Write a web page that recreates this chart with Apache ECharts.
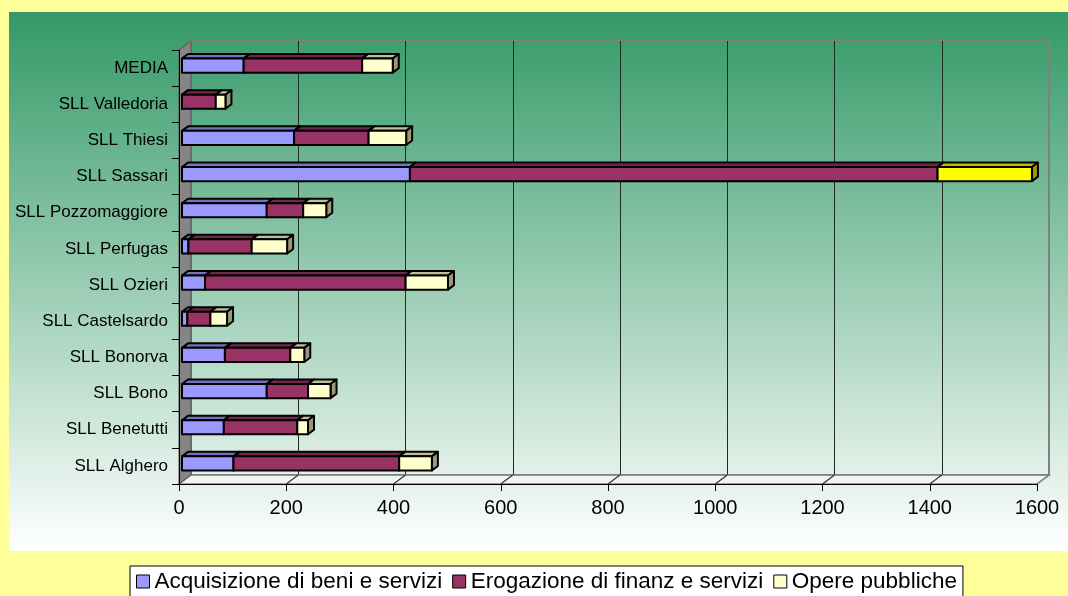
<!DOCTYPE html>
<html>
<head>
<meta charset="utf-8">
<script src="https://cdn.jsdelivr.net/npm/echarts@6/dist/echarts.min.js"></script>
<style>
html, body { margin: 0; padding: 0; background: #ffff99; }
#chart { width: 1068px; height: 596px; }
</style>
</head>
<body>
<div id="chart"></div>
<script>
// data, bottom row first (category axis goes upward)
const categories = ['SLL Alghero', 'SLL Benetutti', 'SLL Bono', 'SLL Bonorva', 'SLL Castelsardo', 'SLL Ozieri',
  'SLL Perfugas', 'SLL Pozzomaggiore', 'SLL Sassari', 'SLL Thiesi', 'SLL Valledoria', 'MEDIA'];
const acquisizione = [96, 78, 158, 80, 10, 43, 12, 158, 425, 209, 0, 115];
const erogazione = [309, 137, 77, 122, 43, 374, 118, 68, 984, 139, 63, 221];
const opere = [61, 20, 42, 26, 31, 79, 66, 43, 176, 70, 18, 57];
const xTicks = [0, 200, 400, 600, 800, 1000, 1200, 1400, 1600];
const seriesNames = ['Acquisizione di beni e servizi', 'Erogazione di finanz e servizi', 'Opere pubbliche'];

// frame of the fake 3d plot
const GX = 179, GY = 50, GW = 858, GH = 434;
const DX = 12, DY = 9;
const FONT = '"Liberation Sans", Arial, sans-serif';

function shade(hex, k) {
  const n = parseInt(hex.slice(1), 16);
  const r = Math.round(((n >> 16) & 255) * k);
  const g = Math.round(((n >> 8) & 255) * k);
  const b = Math.round((n & 255) * k);
  return 'rgb(' + r + ',' + g + ',' + b + ')';
}

function renderBar(params, api) {
  const x0 = api.value(0), x1 = api.value(1), cat = api.value(2);
  const a = api.coord([x0, cat]);
  const b = api.coord([x1, cat]);
  const band = api.size([0, 1])[1];
  const h = band * 0.39;
  const l = a[0] + 3, r = b[0] + 3;
  const yc = a[1] - 2.5;
  const t = yc - h / 2, bt = yc + h / 2;
  const dx = 6, dy = 4.5;
  const color = api.visual('color');
  const stroke = { stroke: '#000', lineWidth: 2, lineJoin: 'round' };
  return {
    type: 'group',
    children: [
      { type: 'polygon', shape: { points: [[l, t], [r, t], [r + dx, t - dy], [l + dx, t - dy]] },
        style: Object.assign({ fill: shade(color, 0.75) }, stroke) },
      { type: 'polygon', shape: { points: [[r, t], [r + dx, t - dy], [r + dx, bt - dy], [r, bt]] },
        style: Object.assign({ fill: shade(color, 0.6) }, stroke) },
      { type: 'rect', shape: { x: l, y: t, width: r - l, height: h },
        style: Object.assign({ fill: color }, stroke) }
    ]
  };
}

const colors = ['#9999ff', '#993366', '#ffffcc'];
const values = [acquisizione, erogazione, opere];
const starts = categories.map(() => 0);
const series = values.map((arr, si) => {
  const data = arr.map((v, i) => {
    const item = { value: [starts[i], starts[i] + v, i] };
    starts[i] += v;
    if (si === 2 && categories[i] === 'SLL Sassari') item.itemStyle = { color: '#ffff00' };
    return item;
  });
  return {
    name: seriesNames[si],
    type: 'custom',
    xAxisIndex: 0,
    yAxisIndex: 0,
    renderItem: renderBar,
    itemStyle: { color: colors[si] },
    encode: { x: [0, 1], y: 2 },
    clip: false,
    z: 2,
    data: data
  };
});

// decorations: panel, left wall, floor, floor tick diagonals
const graphics = [
  { type: 'rect', shape: { x: 9, y: 12, width: 1059, height: 539 }, z: -10,
    style: { fill: new echarts.graphic.LinearGradient(0, 0, 0, 1, [
      { offset: 0, color: '#339966' }, { offset: 1, color: '#ffffff' }]) } },
  { type: 'polygon', z: 1,
    shape: { points: [[GX + DX, GY + GH - DY], [GX + GW + DX, GY + GH - DY], [GX + GW, GY + GH], [GX, GY + GH]] },
    style: { fill: 'rgba(245,245,245,0.7)', stroke: '#808080', lineWidth: 1.5 } },
  { type: 'polygon', z: 1,
    shape: { points: [[GX, GY], [GX + DX, GY - DY], [GX + DX, GY + GH - DY], [GX, GY + GH]] },
    style: { fill: '#858585', stroke: '#555', lineWidth: 1 } }
];
xTicks.forEach(v => {
  if (v === 0) return;
  const x = GX + v / 1600 * GW;
  graphics.push({ type: 'line', z: 1,
    shape: { x1: x, y1: GY + GH, x2: x + DX, y2: GY + GH - DY },
    style: { stroke: v === 1600 ? '#808080' : '#333', lineWidth: 1.2 } });
});

const chart = echarts.init(document.getElementById('chart'));
chart.setOption({
  backgroundColor: '#ffff99',
  animation: false,
  textStyle: { fontFamily: FONT },
  graphic: graphics,
  legend: {
    data: seriesNames,
    left: 130,
    top: 566,
    icon: 'rect',
    itemWidth: 13,
    itemHeight: 13,
    itemGap: 10,
    padding: [4, 6, 6, 6],
    backgroundColor: '#ffffff',
    borderColor: '#000',
    borderWidth: 1,
    borderRadius: 0,
    itemStyle: { borderColor: '#000', borderWidth: 1 },
    textStyle: { fontSize: 22.5, color: '#000', fontFamily: FONT }
  },
  grid: [
    { left: GX, top: GY, width: GW, height: GH, outerBoundsMode: 'none' },
    { left: GX + DX, top: GY - DY, width: GW, height: GH, outerBoundsMode: 'none',
      show: true, borderColor: '#808080', borderWidth: 2, backgroundColor: 'transparent' }
  ],
  xAxis: [
    { gridIndex: 0, type: 'value', min: 0, max: 1600, interval: 200, z: 3,
      axisLine: { show: true, lineStyle: { color: '#000', width: 1 } },
      axisTick: { show: true, length: 7, lineStyle: { color: '#000' } },
      axisLabel: { fontSize: 20, color: '#000', margin: 14, fontFamily: FONT, formatter: v => String(v) },
      splitLine: { show: false } },
    { gridIndex: 1, type: 'value', min: 0, max: 1600, interval: 200,
      axisLine: { show: false }, axisTick: { show: false }, axisLabel: { show: false },
      splitLine: { show: true, showMinLine: false, showMaxLine: false, lineStyle: { color: '#1f2b24', width: 1 } } }
  ],
  yAxis: [
    { gridIndex: 0, type: 'category', data: categories, z: 3,
      axisLine: { show: true, lineStyle: { color: '#000', width: 1 } },
      axisTick: { show: true, length: 7, lineStyle: { color: '#000' } },
      axisLabel: { fontSize: 17, color: '#000', margin: 11, fontFamily: FONT },
      splitLine: { show: false } },
    { gridIndex: 1, type: 'value', show: false, splitLine: { show: false } }
  ],
  series: series
});
window.addEventListener('resize', () => chart.resize());
</script>
</body>
</html>
